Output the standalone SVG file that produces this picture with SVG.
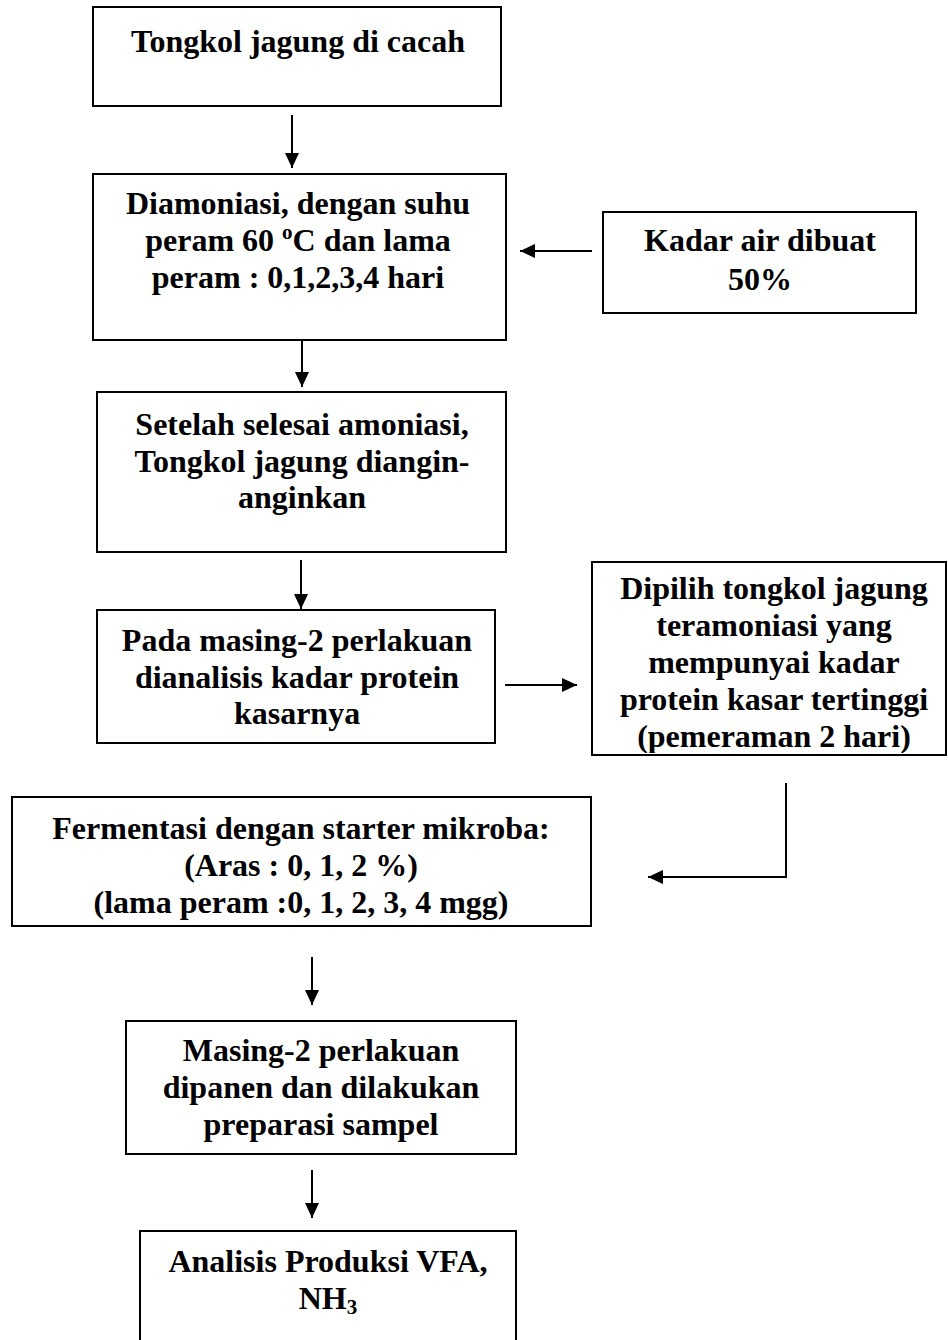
<svg xmlns="http://www.w3.org/2000/svg" width="948" height="1340" viewBox="0 0 948 1340">
<style>
.box{fill:#fff;stroke:#000;stroke-width:2}
.t{font-family:"Liberation Serif","Times New Roman",serif;font-weight:bold;font-size:32px;fill:#000;text-anchor:middle}
.c{fill:none;stroke:#000;stroke-width:2}
</style>
<defs>
<marker id="ah" markerUnits="userSpaceOnUse" markerWidth="16" markerHeight="16" viewBox="0 0 16 16" refX="15" refY="8" orient="auto">
<path d="M0,1 L15,8 L0,15 Z" fill="#000"/>
</marker>
<clipPath id="clipDipilih"><rect x="592" y="562" width="354" height="191"/></clipPath>
</defs>

<g id="connectors">
<line class="c" x1="292" y1="115" x2="292" y2="168" marker-end="url(#ah)"/>
<line class="c" x1="302" y1="340" x2="302" y2="387" marker-end="url(#ah)"/>
<line class="c" x1="592" y1="251" x2="520" y2="251" marker-end="url(#ah)"/>
<line class="c" x1="301" y1="560" x2="301" y2="609" marker-end="url(#ah)"/>
<line class="c" x1="505" y1="685" x2="577" y2="685" marker-end="url(#ah)"/>
<polyline class="c" points="786,783 786,877 648,877" marker-end="url(#ah)"/>
<line class="c" x1="312" y1="957" x2="312" y2="1005" marker-end="url(#ah)"/>
<line class="c" x1="312" y1="1170" x2="312" y2="1218" marker-end="url(#ah)"/>
</g>

<g id="n1">
<rect class="box" x="93" y="7" width="408" height="99"/>
<text class="t" x="298" y="52">Tongkol jagung di cacah</text>
</g>

<g id="n2">
<rect class="box" x="93" y="174" width="413" height="166"/>
<text class="t" x="298" y="214">Diamoniasi, dengan suhu</text>
<text class="t" x="298" y="251">peram 60 <tspan font-size="21" dy="-12">o</tspan><tspan dy="12">C dan lama</tspan></text>
<text class="t" x="298" y="288">peram : 0,1,2,3,4 hari</text>
</g>

<g id="n_kadar">
<rect class="box" x="603" y="212" width="313" height="101"/>
<text class="t" x="760" y="251">Kadar air dibuat</text>
<text class="t" x="760" y="290">50%</text>
</g>

<g id="n3">
<rect class="box" x="97" y="392" width="409" height="160"/>
<text class="t" x="302" y="435">Setelah selesai amoniasi,</text>
<text class="t" x="302" y="472">Tongkol jagung diangin-</text>
<text class="t" x="302" y="508">anginkan</text>
</g>

<g id="n4">
<rect class="box" x="97" y="610" width="398" height="133"/>
<text class="t" x="297" y="651">Pada masing-2 perlakuan</text>
<text class="t" x="297" y="688">dianalisis kadar protein</text>
<text class="t" x="297" y="724">kasarnya</text>
</g>

<g id="n_dipilih">
<rect class="box" x="592" y="562" width="354" height="193"/>
<g clip-path="url(#clipDipilih)">
<text class="t" x="774" y="599">Dipilih tongkol jagung</text>
<text class="t" x="774" y="636">teramoniasi yang</text>
<text class="t" x="774" y="673">mempunyai kadar</text>
<text class="t" x="774" y="710">protein kasar tertinggi</text>
<text class="t" x="774" y="747">(pemeraman 2 hari)</text>
</g>
</g>

<g id="n5">
<rect class="box" x="12" y="797" width="579" height="129"/>
<text class="t" x="301" y="839">Fermentasi dengan starter mikroba:</text>
<text class="t" x="301" y="876">(Aras : 0, 1, 2 %)</text>
<text class="t" x="301" y="913">(lama peram :0, 1, 2, 3, 4 mgg)</text>
</g>

<g id="n6">
<rect class="box" x="126" y="1021" width="390" height="133"/>
<text class="t" x="321" y="1061">Masing-2 perlakuan</text>
<text class="t" x="321" y="1098">dipanen dan dilakukan</text>
<text class="t" x="321" y="1135">preparasi sampel</text>
</g>

<g id="n7">
<rect class="box" x="140" y="1231" width="376" height="130"/>
<text class="t" x="328" y="1272">Analisis Produksi VFA,</text>
<text class="t" x="328" y="1309">NH<tspan font-size="21" dy="5">3</tspan></text>
</g>
</svg>
